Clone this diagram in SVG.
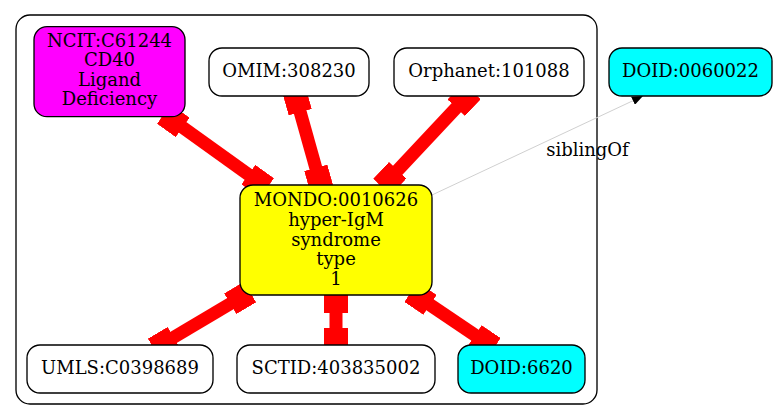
<svg xmlns="http://www.w3.org/2000/svg" width="778" height="420" viewBox="0 0 778 420">
<style>
text{font-family:"DejaVu Serif","Liberation Serif",serif;font-size:18px;text-anchor:middle;fill:#000}
.n{stroke:#000;stroke-width:1.33}
.w{fill:#fff}.m{fill:#ff00ff}.y{fill:#ffff00}.c{fill:#00ffff}
.e{stroke:#ff0000;stroke-width:13;fill:none;marker-start:url(#box);marker-end:url(#box)}
</style>
<defs>
<marker id="box" viewBox="0 0 23 24" refX="23" refY="12" markerWidth="23" markerHeight="24" markerUnits="userSpaceOnUse" orient="auto-start-reverse">
<rect x="0" y="0" width="23" height="24" fill="#ff0000"/>
</marker>
<marker id="arr" viewBox="0 0 11 9" refX="0" refY="4.5" markerWidth="11" markerHeight="9" markerUnits="userSpaceOnUse" orient="auto">
<path d="M0,0 L11,4.5 L0,9 Z" fill="#000"/>
</marker>
</defs>
<rect id="cluster" x="16" y="15" width="581" height="389" rx="14" fill="none" stroke="#000" stroke-width="1.33"/>
<g id="connectors">
<line class="e" x1="164" y1="114" x2="267" y2="188"/>
<line class="e" x1="294" y1="90" x2="322" y2="190"/>
<line class="e" x1="472" y1="91" x2="382" y2="187"/>
<line class="e" x1="250" y1="292" x2="154" y2="349"/>
<line class="e" x1="336" y1="290" x2="336" y2="351"/>
<line class="e" x1="411" y1="292" x2="494" y2="348"/>
<line x1="432" y1="195" x2="633" y2="100.7" stroke="#d0d0d0" stroke-width="1" marker-end="url(#arr)"/>
<text x="587.5" y="156">siblingOf</text>
</g>
<g id="ncit"><rect class="n m" x="34" y="26.7" width="151" height="90" rx="13"/>
<text x="109.5" y="46.5">NCIT:C61244</text><text x="109.5" y="66">CD40</text><text x="109.5" y="85.5">Ligand</text><text x="109.5" y="105">Deficiency</text></g>
<g id="omim"><rect class="n w" x="209" y="48" width="160" height="48" rx="13"/><text x="289" y="77">OMIM:308230</text></g>
<g id="orphanet"><rect class="n w" x="394" y="48" width="190" height="48" rx="13"/><text x="489" y="77">Orphanet:101088</text></g>
<g id="doid0060022"><rect class="n c" x="609" y="48" width="163" height="48" rx="13"/><text x="690.5" y="77">DOID:0060022</text></g>
<g id="mondo"><rect class="n y" x="240" y="185" width="192" height="110" rx="13"/>
<text x="336" y="206">MONDO:0010626</text><text x="336" y="225.8">hyper-IgM</text><text x="336" y="245.6">syndrome</text><text x="336" y="265.4">type</text><text x="336" y="285.2">1</text></g>
<g id="umls"><rect class="n w" x="27" y="345" width="186" height="48" rx="13"/><text x="120" y="374">UMLS:C0398689</text></g>
<g id="sctid"><rect class="n w" x="237" y="345" width="198" height="48" rx="13"/><text x="336" y="374">SCTID:403835002</text></g>
<g id="doid6620"><rect class="n c" x="458" y="345" width="127" height="48" rx="13"/><text x="521.5" y="374">DOID:6620</text></g>
</svg>
